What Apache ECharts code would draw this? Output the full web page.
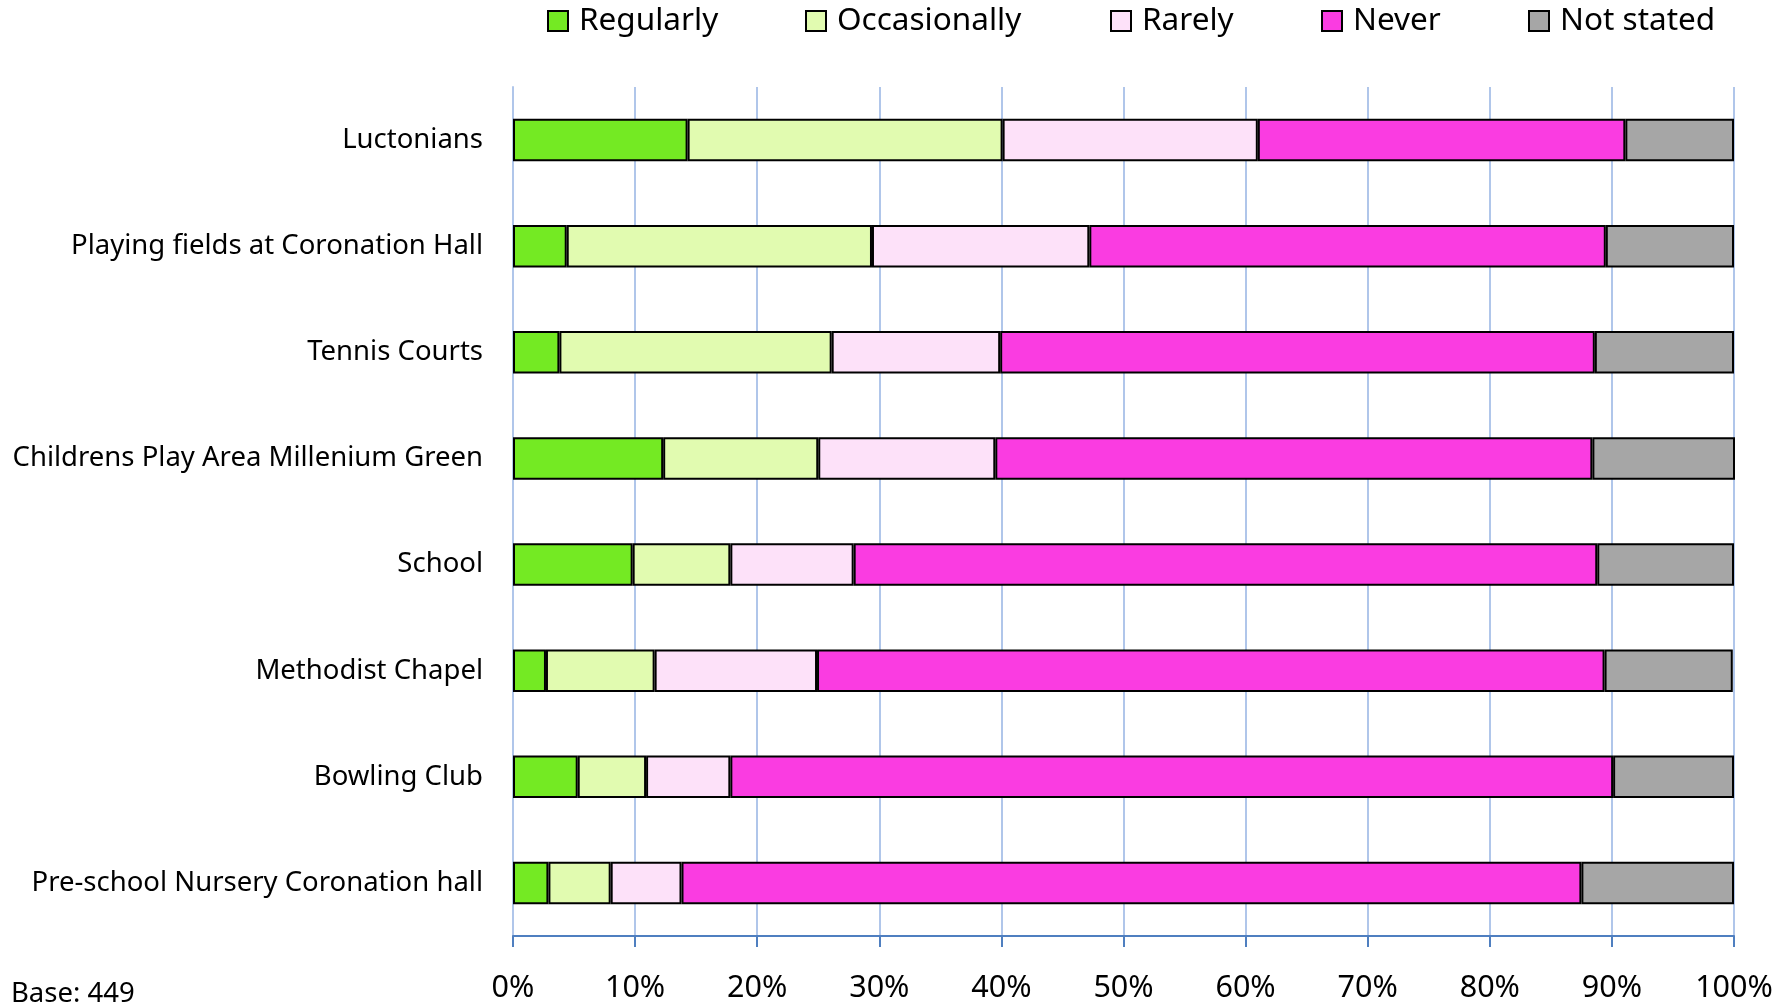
<!DOCTYPE html>
<html>
<head>
<meta charset="utf-8">
<script src="https://cdn.jsdelivr.net/npm/echarts@6/dist/echarts.min.js"></script>
<style>
html,body{margin:0;padding:0;background:#fff;}
#chart{width:1777px;height:1004px;}
</style>
</head>
<body>
<div id="chart"></div>
<script>
var categories = ["Luctonians","Playing fields at Coronation Hall","Tennis Courts","Childrens Play Area Millenium Green","School","Methodist Chapel","Bowling Club","Pre-school Nursery Coronation hall"];
var regularly    = [14.3, 4.4, 3.8, 12.3, 9.8, 2.7, 5.3, 2.9];
var occasionally = [25.8, 25.0, 22.3, 12.7, 8.0, 8.9, 5.6, 5.1];
var rarely       = [20.9, 17.8, 13.8, 14.5, 10.1, 13.3, 6.9, 5.8];
var never        = [30.1, 42.3, 48.7, 48.9, 60.9, 64.5, 72.3, 73.7];
var notStated    = [8.9, 10.5, 11.4, 11.7, 11.2, 10.5, 9.9, 12.5];
var seriesNames  = ["Regularly","Occasionally","Rarely","Never","Not stated"];
var seriesColors = ["#74ea23","#e1fbb0","#fde1f9","#fa3ce1","#a6a6a6"];
var tickValues   = [0,10,20,30,40,50,60,70,80,90,100];
var baseNote     = "Base: 449";

var FONT = "Noto Sans";
var allData = [regularly, occasionally, rarely, never, notStated];
var legendLefts = [547, 805, 1110, 1321, 1528];

var chart = echarts.init(document.getElementById('chart'), null, {renderer:'canvas'});

var series = seriesNames.map(function(n, i){
  return {
    name: n,
    type: 'bar',
    stack: 'total',
    barWidth: '40%',
    data: allData[i],
    itemStyle: {color: seriesColors[i], borderColor: '#000', borderWidth: 2},
    emphasis: {disabled: true}
  };
});

var legends = seriesNames.map(function(n, i){
  return {
    data: [n],
    left: legendLefts[i],
    top: 2,
    padding: 0,
    itemWidth: 20,
    itemHeight: 20,
    icon: 'rect',
    selectedMode: false,
    textStyle: {fontFamily: FONT, fontSize: 31.5, color: '#000', lineHeight: 38, padding: [0,0,0,6]}
  };
});

chart.setOption({
  animation: false,
  backgroundColor: '#fff',
  legend: legends,
  grid: {left: 513, right: 43, top: 87, bottom: 67, containLabel: false},
  xAxis: {
    type: 'value',
    min: 0, max: 100, interval: 10,
    axisLine: {show: true, lineStyle: {color: '#4f7fc0', width: 2}},
    axisTick: {show: true, length: 11, lineStyle: {color: '#4f7fc0', width: 2}},
    axisLabel: {fontFamily: FONT, fontSize: 30.5, color: '#000', margin: 37,
      formatter: function(v){ return tickValues.indexOf(v) >= 0 ? v + '%' : ''; }},
    splitLine: {show: true, lineStyle: {color: '#b0c6ea', width: 2}}
  },
  yAxis: {
    type: 'category',
    inverse: true,
    data: categories,
    axisLine: {show: true, lineStyle: {color: '#b0c6ea', width: 2}},
    axisTick: {show: false},
    axisLabel: {fontFamily: FONT, fontSize: 27.5, color: '#000', margin: 30}
  },
  graphic: [{
    type: 'text',
    left: 11,
    top: 980,
    style: {text: baseNote, fontFamily: FONT, fontSize: 27.5, fill: '#000'}
  }],
  series: series
});
</script>
</body>
</html>
